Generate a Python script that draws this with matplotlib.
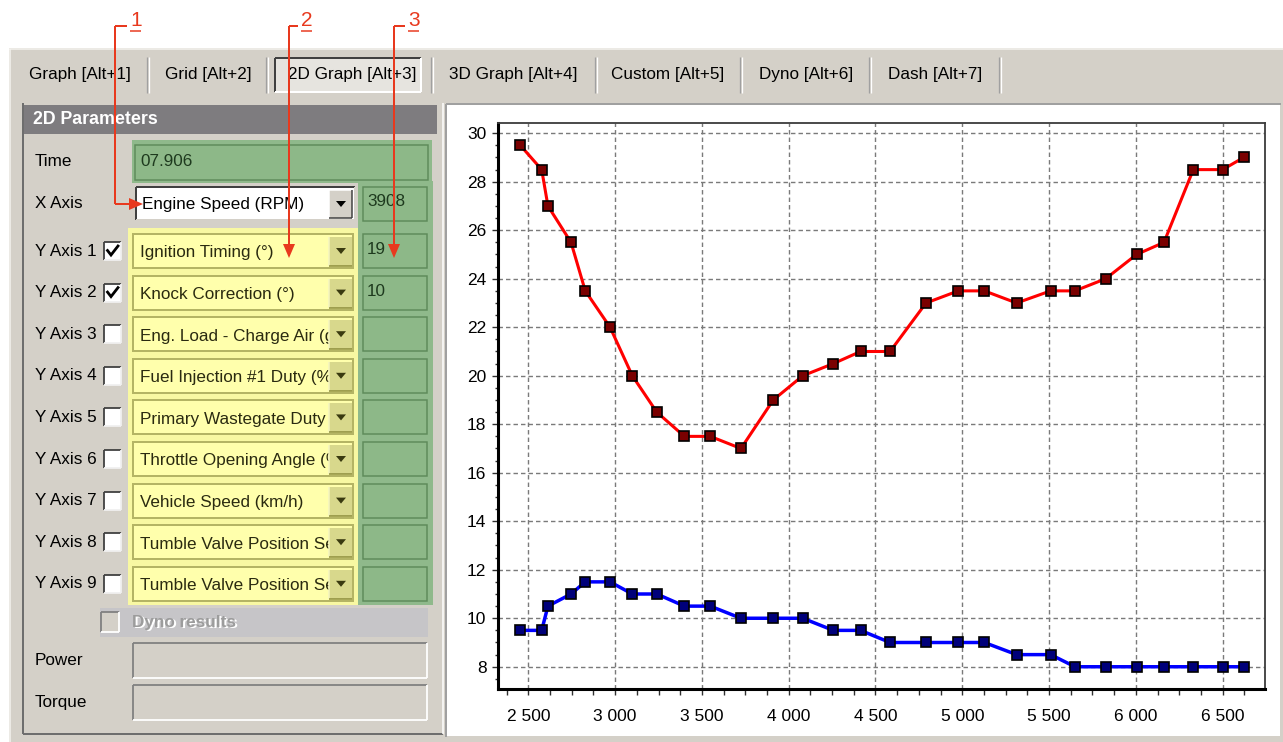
import matplotlib
matplotlib.use('Agg')
import matplotlib.pyplot as plt
from matplotlib.patches import Rectangle, Polygon
from matplotlib.ticker import MultipleLocator, FuncFormatter

# ---------------- data ----------------
tabs = ['Graph [Alt+1]', 'Grid [Alt+2]', '2D Graph [Alt+3]', '3D Graph [Alt+4]',
        'Custom [Alt+5]', 'Dyno [Alt+6]', 'Dash [Alt+7]']
active_tab = '2D Graph [Alt+3]'
panel_title = '2D Parameters'
time_label = 'Time'
time_value = '07.906'
x_axis_label = 'X Axis'
x_axis_channel = 'Engine Speed (RPM)'
x_axis_value = '3908'
y_axis_labels = ['Y Axis 1', 'Y Axis 2', 'Y Axis 3', 'Y Axis 4', 'Y Axis 5',
                 'Y Axis 6', 'Y Axis 7', 'Y Axis 8', 'Y Axis 9']
y_axis_channels = ['Ignition Timing (°)', 'Knock Correction (°)',
                   'Eng. Load - Charge Air (g/rev)', 'Fuel Injection #1 Duty (%)',
                   'Primary Wastegate Duty (%)', 'Throttle Opening Angle (%)',
                   'Vehicle Speed (km/h)', 'Tumble Valve Position Sensor Right',
                   'Tumble Valve Position Sensor Left']
y_axis_checked = [True, True, False, False, False, False, False, False, False]
y_axis_values = ['19', '10', '', '', '', '', '', '', '']
dyno_label = 'Dyno results'
extra_labels = ['Power', 'Torque']
callouts = ['1', '2', '3']

engine_speed = [2454, 2577, 2613, 2746, 2828, 2971, 3099, 3240, 3399, 3548,
                3725, 3911, 4081, 4257, 4414, 4584, 4791, 4977, 5127, 5313,
                5509, 5649, 5826, 6004, 6162, 6331, 6500, 6621]
ignition_timing = [29.5, 28.5, 27, 25.5, 23.5, 22, 20, 18.5, 17.5, 17.5,
                   17, 19, 20, 20.5, 21, 21, 23, 23.5, 23.5, 23,
                   23.5, 23.5, 24, 25, 25.5, 28.5, 28.5, 29]
knock_correction = [9.5, 9.5, 10.5, 11, 11.5, 11.5, 11, 11, 10.5, 10.5,
                    10, 10, 10, 9.5, 9.5, 9, 9, 9, 9, 8.5,
                    8.5, 8, 8, 8, 8, 8, 8, 8]

# ---------------- figure / UI canvas ----------------
W, H = 1283, 742
FONT = ['Liberation Sans', 'DejaVu Sans']
FS = 12.3
fig = plt.figure(figsize=(W / 100, H / 100), dpi=100)
fig.patch.set_facecolor('white')
ui = fig.add_axes([0, 0, 1, 1], zorder=0)
ui.set_xlim(0, W)
ui.set_ylim(H, 0)
ui.axis('off')

GRAY = '#D4D0C8'
PX = 0.72  # one pixel in points


def rect(x0, y0, x1, y1, fc, ec='none', lw=0, z=1):
    ui.add_patch(Rectangle((x0, y0), x1 - x0, y1 - y0, facecolor=fc,
                           edgecolor=ec, linewidth=lw * PX, zorder=z))


def line(xs, ys, c, lw=1, z=2, **kw):
    ui.plot(xs, ys, color=c, linewidth=lw * PX, zorder=z,
            solid_capstyle='butt', **kw)


def bevel(x0, y0, x1, y1, tl, br, lw=1, z=3):
    line([x0, x1], [y0, y0], tl, lw, z)
    line([x0, x0], [y0, y1], tl, lw, z)
    line([x0, x1], [y1, y1], br, lw, z)
    line([x1, x1], [y0, y1], br, lw, z)


def txt(x, y, s, size=FS, color='black', ha='left', weight='normal', z=5, **kw):
    return ui.text(x, y, s, fontsize=size, color=color, ha=ha, va='center',
                   family=FONT, fontweight=weight, zorder=z, **kw)


# window background
rect(9, 48, W, H, GRAY, z=0.5)
line([9, W], [49, 49], '#F4F3EF', 1.5, 1)
line([10, 10], [49, H], '#F4F3EF', 1.5, 1)

# ---------------- tabs ----------------
tab_centers = [80, 208, 352, 513, 668, 806, 935]
tab_seps = [147, 266, 431, 595, 740, 869, 999]
for name, cx in zip(tabs, tab_centers):
    if name == active_tab:
        rect(275, 58, 421, 92, '#E6E4DF', z=1)
        bevel(275, 58, 421, 92, '#404040', '#FFFFFF', 2, 2)
    txt(cx, 75, name, ha='center')
for sx in tab_seps:
    line([sx, sx], [57, 93], '#A0A0A0', 1.3, 2)
    line([sx + 1.5, sx + 1.5], [57, 93], '#FFFFFF', 1.3, 2)

# ---------------- left panel ----------------
line([23, 23], [103, 734], '#6E6E6E', 2, 2)
line([23, 443], [734, 734], '#6E6E6E', 2, 2)
line([443, 443], [103, 734], '#FFFFFF', 1.5, 2)
rect(24, 105, 437, 134, '#7E7C7F', z=1)
txt(33, 120, panel_title, size=FS + 0.5, color='white', weight='bold')

# green value column and yellow channel area
rect(358, 181, 433, 605, '#8FB98B', z=1)
rect(128, 228, 358, 605, '#F8F8A2', z=1)

# Time row
txt(35, 161, time_label)
rect(132, 140, 432, 183, '#8FB98B', z=1)
rect(135, 145, 428, 180, '#8DB888', '#5F8B5B', 1.5, z=2)
txt(140, 162, time_value, color='#1E3A1E')

# X axis row
txt(35, 203, x_axis_label)
rect(136, 187, 355, 220, 'white', z=2)
bevel(136, 187, 355, 220, '#404040', GRAY, 2, 3)
rect(329, 190, 352, 218, GRAY, z=3)
bevel(329, 190, 352, 218, '#FFFFFF', '#404040', 1.5, 4)
ui.add_patch(Polygon([[336, 201], [346, 201], [341, 207]], closed=True,
                     facecolor='black', edgecolor='none', zorder=5))
txt(142, 205, x_axis_channel)
rect(363, 187, 427, 221, '#8DB888', '#5F8B5B', 1.5, z=2)
txt(367, 202, x_axis_value, color='#1E3A1E')

# Y axis rows
for i, (lab, ch, chk, val) in enumerate(zip(y_axis_labels, y_axis_channels,
                                            y_axis_checked, y_axis_values)):
    c = 251 + i * 41.6
    txt(35, c, lab)
    # checkbox
    rect(104, c - 9, 121, c + 9, 'white', z=2)
    bevel(104, c - 9, 121, c + 9, '#404040', '#F0F0F0', 1.8, 3)
    if chk:
        ui.plot([107.5, 111, 118], [c - 0.5, c + 4, c - 5], color='black',
                linewidth=2.0, zorder=4, solid_joinstyle='miter')
    # yellow combo
    rect(133, c - 17, 353, c + 17, '#FFFFAC', '#B4B464', 2, z=2)
    rect(329, c - 14, 352, c + 15, '#D8D88C', z=3)
    line([329, 329], [c - 14, c + 15], '#F4F4C0', 1.5, 4)
    line([329, 352], [c + 15, c + 15], '#8C8C3C', 1.5, 4)
    ui.add_patch(Polygon([[336, c - 3], [346, c - 3], [341, c + 3]], closed=True,
                         facecolor='#3A3A10', edgecolor='none', zorder=5))
    t = txt(140, c + 2, ch, color='#2A2A10', z=2.5, clip_on=True)
    t.set_clip_path(Rectangle((133, c - 17), 329 - 133, 34, transform=ui.transData))
    # value box
    rect(363, c - 17, 427, c + 17, '#8DB888', '#5F8B5B', 1.5, z=2)
    if val:
        txt(367, c - 1, val, color='#1E3A1E')

# dyno results
rect(100, 608, 428, 637, '#C6C5C8', z=1)
rect(101, 612, 119, 632, GRAY, z=2)
bevel(101, 612, 119, 632, '#808080', '#FFFFFF', 1.8, 3)
txt(133.5, 623.5, dyno_label, color='white', weight='bold')
txt(132, 622, dyno_label, color='#9C9C9C', weight='bold', z=6)

for lab, (y0, y1) in zip(extra_labels, [(643, 678), (685, 720)]):
    txt(35, (y0 + y1) / 2, lab)
    rect(133, y0, 427, y1, GRAY, z=1)
    bevel(133, y0, 427, y1, '#808080', '#FFFFFF', 1.8, 2)

# ---------------- callout arrows ----------------
RED = '#E8391E'
ax_tips = [(143, 204, 'right'), (289, 258, 'down'), (394, 258, 'down')]
num_x = [130, 301, 408]
vert_x = [115, 289, 394]
for (tx, ty, d), nx, vx, lab in zip(ax_tips, num_x, vert_x, callouts):
    line([vx, nx - 3], [26, 26], RED, 2, 8)
    txt(nx, 21, lab, size=15, color=RED, z=9)
    line([nx, nx + 11], [31, 31], RED, 1.5, 8)
    if d == 'right':
        line([vx, vx], [26, 204], RED, 2, 8)
        line([vx, tx - 12], [204, 204], RED, 2, 8)
        ui.add_patch(Polygon([[tx, ty], [tx - 14, ty - 6], [tx - 14, ty + 6]],
                             closed=True, facecolor=RED, edgecolor='none', zorder=9))
    else:
        line([vx, vx], [26, ty - 12], RED, 2, 8)
        ui.add_patch(Polygon([[tx, ty], [tx - 6, ty - 14], [tx + 6, ty - 14]],
                             closed=True, facecolor=RED, edgecolor='none', zorder=9))

# ---------------- chart panel ----------------
rect(447, 105, 1280, 736, 'white', z=1)
line([446, 1281], [104, 104], '#A0A0A0', 2, 2)
line([446, 446], [104, 737], '#A0A0A0', 2, 2)

L, R, T, B = 498.3, 1265, 123.3, 689.3
ax = fig.add_axes([L / W, (H - B) / H, (R - L) / W, (B - T) / H], zorder=2)
ax.set_facecolor('white')
ax.set_xlim(2327, 6744)
ax.set_ylim(7.07, 30.41)

ax.plot(engine_speed, ignition_timing, color='#FF0000', linewidth=2.2,
        marker='s', markersize=6.5, markerfacecolor='#7A0000',
        markeredgecolor='black', markeredgewidth=1.2, zorder=3)
ax.plot(engine_speed, knock_correction, color='#0000FF', linewidth=2.5,
        marker='s', markersize=6.5, markerfacecolor='#00007A',
        markeredgecolor='black', markeredgewidth=1.2, zorder=3)

ax.xaxis.set_major_locator(MultipleLocator(500))
ax.xaxis.set_minor_locator(MultipleLocator(125))
ax.yaxis.set_major_locator(MultipleLocator(2))
ax.yaxis.set_minor_locator(MultipleLocator(0.5))
ax.xaxis.set_major_formatter(FuncFormatter(lambda v, p: f'{int(round(v)):,}'.replace(',', ' ')))
ax.yaxis.set_major_formatter(FuncFormatter(lambda v, p: f'{int(round(v))}'))
ax.grid(True, which='major', color='#7A7A7A', linestyle=(0, (3.2, 2.2)), linewidth=1.0)
ax.set_axisbelow(True)

for s in ['left', 'bottom']:
    ax.spines[s].set_color('black')
    ax.spines[s].set_linewidth(2.2)
for s in ['top', 'right']:
    ax.spines[s].set_color('#3C3C3C')
    ax.spines[s].set_linewidth(1.3)

ax.tick_params(axis='both', which='major', direction='out', length=4.5,
               width=1.0, color='#303030', labelsize=12.5)
ax.tick_params(axis='x', which='minor', direction='out', length=4, width=1.0,
               color='#303030')
ax.tick_params(axis='y', which='minor', direction='out', length=2, width=1.0,
               color='#303030')
ax.tick_params(axis='x', which='major', pad=9.5)
ax.tick_params(axis='y', which='major', pad=4)
for lbl in ax.get_xticklabels() + ax.get_yticklabels():
    lbl.set_family(FONT)

fig.savefig('out.png', dpi=100, facecolor=fig.get_facecolor())
